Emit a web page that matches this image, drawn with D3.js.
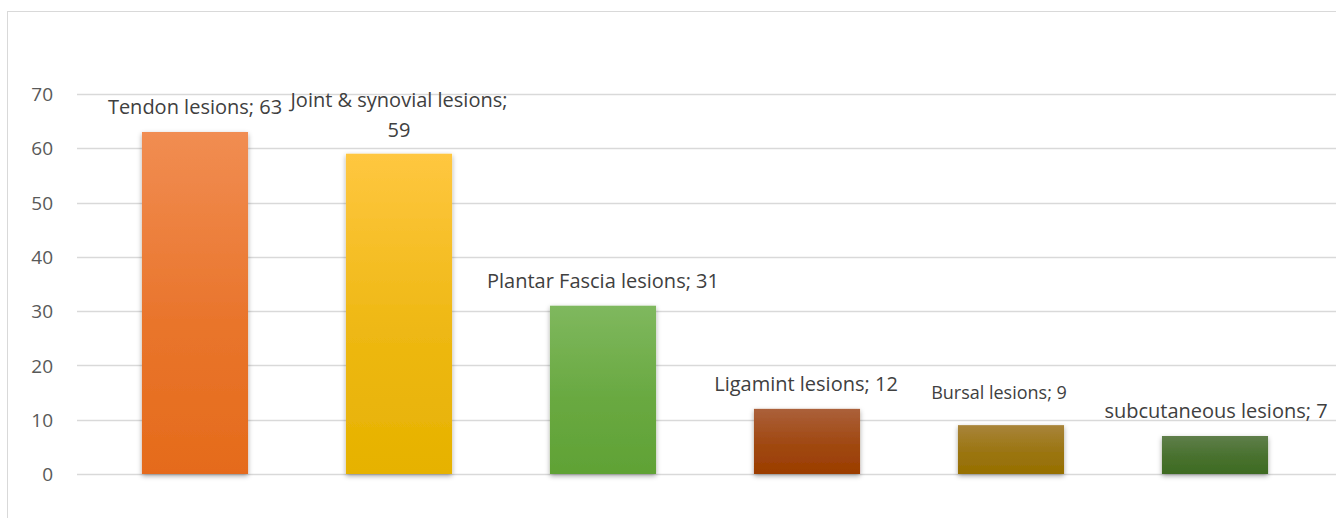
<!DOCTYPE html>
<html>
<head>
<meta charset="utf-8">
<script src="https://cdn.jsdelivr.net/npm/d3@7"></script>
<style>
  body { margin: 0; background: #fff; }
  text { font-family: "Open Sans", sans-serif; }
</style>
</head>
<body>
<script>
var width = 1336;
var height = 518;

// chart data
var categories = ["Tendon lesions", "Joint & synovial lesions", "Plantar Fascia lesions",
                  "Ligamint lesions", "Bursal lesions", "subcutaneous lesions"];
var values = [63, 59, 31, 12, 9, 7];
var yTicks = [0, 10, 20, 30, 40, 50, 60, 70];
var topColors = ["#f18d52", "#ffc740", "#7fb85e", "#ab603a", "#a8843a", "#5f7e4a"];
var bottomColors = ["#e56b1b", "#e6b200", "#60a235", "#9b3d00", "#966f00", "#3e6b22"];

var svg = d3.select("body").append("svg")
    .attr("width", width)
    .attr("height", height);

// chart border
svg.append("rect")
    .attr("x", 7.5).attr("y", 11.5)
    .attr("width", 1400).attr("height", 600)
    .attr("fill", "none")
    .attr("stroke", "#d9d9d9");

var x = d3.scaleBand()
    .domain(categories)
    .range([93, 1317])
    .paddingInner(0.48)
    .paddingOuter(0.24);

var y = d3.scaleLinear()
    .domain([0, 70])
    .range([474, 94]);

// gridlines
svg.append("g")
    .selectAll("line")
    .data(yTicks)
    .enter()
    .append("line")
    .attr("x1", 77).attr("x2", 1336)
    .attr("y1", d => Math.round(y(d)) + 0.5)
    .attr("y2", d => Math.round(y(d)) + 0.5)
    .attr("stroke", "#d9d9d9")
    .attr("stroke-width", 1.3);

// y axis labels
var yAxis = svg.append("g")
    .attr("transform", "translate(53,0)")
    .call(d3.axisLeft(y).tickValues(yTicks).tickSize(0).tickPadding(0));
yAxis.select(".domain").remove();
yAxis.selectAll("text")
    .attr("fill", "#595959")
    .style("font-family", "'Open Sans', sans-serif")
    .style("font-size", "19px")
    .attr("dy", "0.35em");

// gradients and shadow
var defs = svg.append("defs");
categories.forEach(function(c, i) {
    var g = defs.append("linearGradient")
        .attr("id", "grad" + i)
        .attr("x1", 0).attr("y1", 0).attr("x2", 0).attr("y2", 1);
    g.append("stop").attr("offset", "0%").attr("stop-color", topColors[i]);
    g.append("stop").attr("offset", "55%").attr("stop-color", d3.interpolateRgb(topColors[i], bottomColors[i])(0.7));
    g.append("stop").attr("offset", "100%").attr("stop-color", bottomColors[i]);
});
var f = defs.append("filter").attr("id", "shadow")
    .attr("x", "-20%").attr("y", "-20%").attr("width", "140%").attr("height", "140%");
f.append("feDropShadow")
    .attr("dx", 0).attr("dy", 2)
    .attr("stdDeviation", 2.5)
    .attr("flood-color", "#000")
    .attr("flood-opacity", 0.35);

// bars
svg.append("g")
    .selectAll("rect")
    .data(values)
    .enter()
    .append("rect")
    .attr("x", (d, i) => x(categories[i]))
    .attr("y", d => y(d))
    .attr("width", x.bandwidth())
    .attr("height", d => y(0) - y(d))
    .attr("fill", (d, i) => "url(#grad" + i + ")")
    .attr("filter", "url(#shadow)");

// data labels (offsets follow the original label placement)
var labelLines = [
    ["Tendon lesions; 63"],
    ["Joint & synovial lesions;", "59"],
    ["Plantar Fascia lesions; 31"],
    ["Ligamint lesions; 12"],
    ["Bursal lesions; 9"],
    ["subcutaneous lesions; 7"]
];
var labelDx = [0, 0, 0, -1, -12, 1];
var labelDy = [-18, -47, -18, -18, -26, -18];
var labelSize = [20, 20, 20, 20, 18, 20];

var labels = svg.append("g")
    .selectAll("text")
    .data(values)
    .enter()
    .append("text")
    .attr("text-anchor", "middle")
    .attr("fill", "#404040")
    .style("font-size", (d, i) => labelSize[i] + "px")
    .attr("x", (d, i) => x(categories[i]) + x.bandwidth() / 2 + labelDx[i])
    .attr("y", (d, i) => y(d) + labelDy[i]);

labels.each(function(d, i) {
    var t = d3.select(this);
    labelLines[i].forEach(function(line, j) {
        t.append("tspan")
            .attr("x", t.attr("x"))
            .attr("dy", j === 0 ? 0 : 30)
            .text(line);
    });
});
</script>
</body>
</html>
